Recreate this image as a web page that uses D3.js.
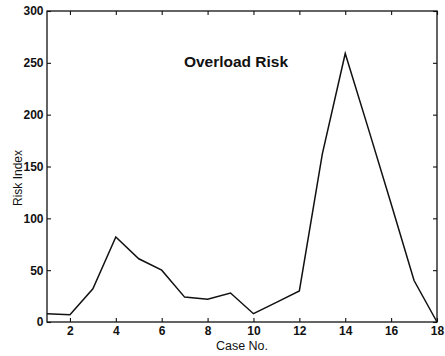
<!DOCTYPE html>
<html>
<head>
<meta charset="utf-8">
<script src="https://cdn.jsdelivr.net/npm/d3@7"></script>
<style>
  html, body { margin: 0; padding: 0; background: #fff; }
  svg { display: block; }
  text { font-family: "Liberation Sans", Arial, Helvetica, sans-serif; fill: #111; }
</style>
</head>
<body>
<script>
// Risk index per case
const cases = [1, 2, 3, 4, 5, 6, 7, 8, 9, 10, 11, 12, 13, 14, 15, 16, 17, 18];
const riskIndex = [8, 7, 32, 82, 61, 50, 24, 22, 28, 8, 19, 30, 162, 259, 187, 114, 40, 0];
const xTicks = [2, 4, 6, 8, 10, 12, 14, 16, 18];
const yTicks = [0, 50, 100, 150, 200, 250, 300];
const titleText = "Overload Risk";
const xLabel = "Case No.";
const yLabel = "Risk Index";

const W = 445, H = 356;
const m = { left: 47, right: 8, top: 11, bottom: 34 };
const iw = W - m.left - m.right, ih = H - m.top - m.bottom;

const svg = d3.select("body").append("svg").attr("width", W).attr("height", H);
const g = svg.append("g").attr("transform", `translate(${m.left},${m.top})`);

const x = d3.scaleLinear().domain([1, 18]).range([0, iw]);
const y = d3.scaleLinear().domain([0, 300]).range([ih, 0]);

const tickLen = 4;

// Axes with inward ticks on all four sides
const styleAxis = sel => {
  sel.select(".domain").remove();
  sel.selectAll(".tick line").attr("stroke", "#111").attr("stroke-width", 1.1);
};

g.append("g").attr("transform", `translate(0,${ih})`)
  .call(d3.axisBottom(x).tickValues(xTicks).tickSizeInner(-tickLen).tickSizeOuter(0).tickPadding(4))
  .call(styleAxis)
  .selectAll("text").attr("font-size", "12px").attr("font-weight", "bold").attr("fill", "#111");

g.append("g")
  .call(d3.axisTop(x).tickValues(xTicks).tickSizeInner(-tickLen).tickSizeOuter(0).tickFormat(""))
  .call(styleAxis);

g.append("g")
  .call(d3.axisLeft(y).tickValues(yTicks).tickSizeInner(-tickLen).tickSizeOuter(0).tickPadding(tickLen - 0.5))
  .call(styleAxis)
  .selectAll("text").attr("font-size", "12px").attr("font-weight", "bold").attr("fill", "#111");

g.append("g").attr("transform", `translate(${iw},0)`)
  .call(d3.axisRight(y).tickValues(yTicks).tickSizeInner(-tickLen).tickSizeOuter(0).tickFormat(""))
  .call(styleAxis);

// Frame
g.append("rect").attr("x", 0).attr("y", 0).attr("width", iw).attr("height", ih)
  .attr("fill", "none").attr("stroke", "#111").attr("stroke-width", 1.3);

// Data line
const line = d3.line().x((d, i) => x(cases[i])).y(d => y(d));
g.append("path").datum(riskIndex)
  .attr("d", line)
  .attr("fill", "none").attr("stroke", "#111").attr("stroke-width", 1.5)
  .attr("stroke-linejoin", "miter");

// Title inside plot
svg.append("text").attr("x", 236).attr("y", 67)
  .attr("text-anchor", "middle").attr("font-size", "15.5px").attr("font-weight", "bold")
  .text(titleText);

// Axis labels
svg.append("text").attr("x", m.left + iw / 2).attr("y", 350)
  .attr("text-anchor", "middle").attr("font-size", "12.5px")
  .text(xLabel);

svg.append("text").attr("transform", "translate(22,178) rotate(-90)")
  .attr("text-anchor", "middle").attr("font-size", "12px")
  .text(yLabel);
</script>
</body>
</html>
